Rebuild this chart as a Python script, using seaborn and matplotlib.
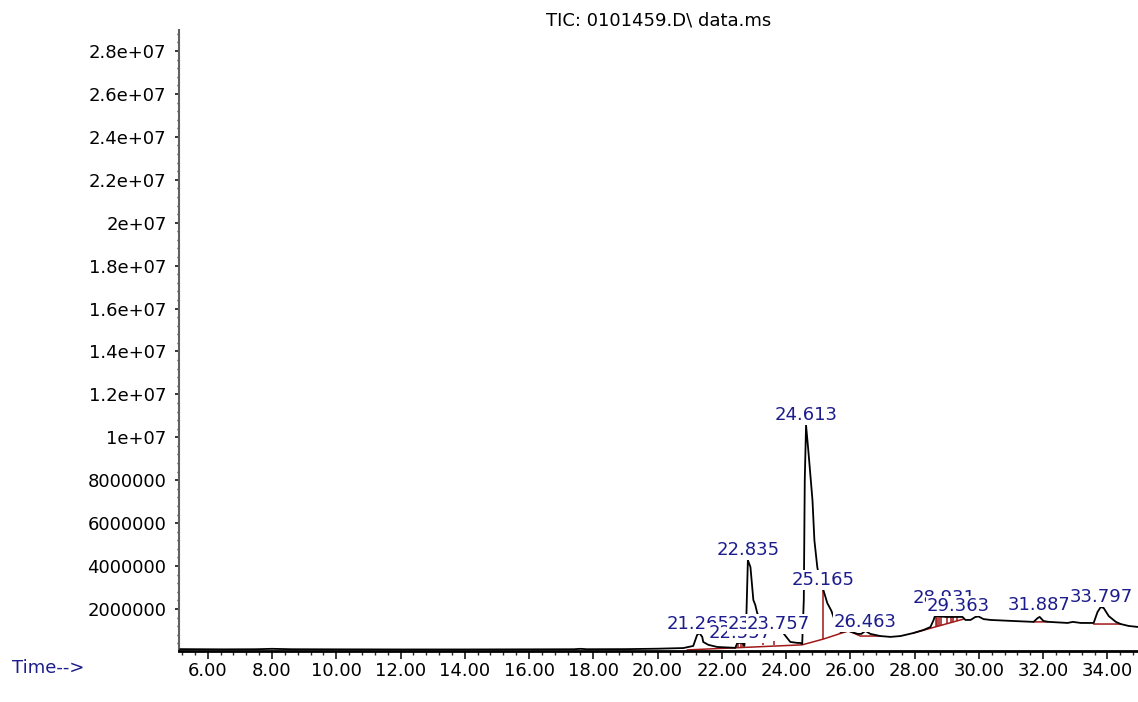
import numpy as np
import pandas as pd
import matplotlib
matplotlib.use("Agg")
import matplotlib.pyplot as plt
from matplotlib.ticker import MultipleLocator, FixedLocator, FuncFormatter
import seaborn as sns

# ---------------- data ----------------
time_min = [5.14, 6.5, 7.5, 8.0, 8.6, 10.0, 12.0, 14.0, 16.0, 17.4, 17.6, 17.8,
            19.0, 20.0, 20.80, 21.02, 21.11, 21.23, 21.30, 21.39, 21.42, 21.58,
            21.86, 22.42, 22.48, 22.64, 22.70, 22.76, 22.81, 22.89, 22.98, 23.04,
            23.10, 23.26, 23.51, 23.76, 23.91, 24.13, 24.35, 24.44, 24.50, 24.55,
            24.58, 24.62, 24.69, 24.82, 24.88, 24.97, 25.03, 25.16, 25.28, 25.41,
            25.56, 25.69, 25.94, 26.22, 26.34, 26.47, 26.62, 26.93, 27.25, 27.56,
            27.96, 28.27, 28.49, 28.59, 28.62, 28.68, 28.96, 29.27, 29.49, 29.58,
            29.74, 29.89, 29.99, 30.14, 30.36, 31.08, 31.70, 31.83, 31.89, 32.01,
            32.17, 32.76, 32.92, 33.17, 33.57, 33.69, 33.79, 33.88, 34.04, 34.26,
            34.41, 34.66, 34.97]
abundance = [1.3e5, 1.2e5, 1.25e5, 1.45e5, 1.25e5, 1.2e5, 1.15e5, 1.15e5, 1.2e5,
             1.25e5, 1.45e5, 1.25e5, 1.3e5, 1.5e5, 1.8e5, 2.5e5, 2.8e5, 7.9e5,
             8.8e5, 7.0e5, 4.65e5, 3.3e5, 2.3e5, 1.9e5, 4.2e5, 4.2e5, 2.8e5,
             1.49e6, 4.28e6, 3.95e6, 2.42e6, 2.19e6, 1.81e6, 1.40e6, 1.16e6,
             9.8e5, 8.8e5, 4.65e5, 4.2e5, 4.2e5, 3.7e5, 2.42e6, 8.0e6, 1.056e7,
             9.4e6, 7.07e6, 5.2e6, 3.95e6, 3.49e6, 2.88e6, 2.28e6, 1.91e6,
             1.26e6, 9.3e5, 9.8e5, 8.4e5, 8.4e5, 9.8e5, 8.4e5, 7.4e5, 7.0e5,
             7.4e5, 8.8e5, 1.02e6, 1.16e6, 1.49e6, 1.63e6, 1.67e6, 1.63e6,
             1.63e6, 1.63e6, 1.49e6, 1.49e6, 1.63e6, 1.65e6, 1.53e6, 1.49e6,
             1.44e6, 1.40e6, 1.58e6, 1.63e6, 1.44e6, 1.40e6, 1.35e6, 1.40e6,
             1.35e6, 1.35e6, 1.86e6, 2.09e6, 2.05e6, 1.67e6, 1.40e6, 1.30e6,
             1.21e6, 1.16e6]

# integration baselines (NaN separates segments)
base_t = [20.92, 24.50, 25.16, 25.94, 26.31, 26.93, np.nan,
          27.96, 29.52, np.nan,
          31.70, 32.14, np.nan,
          33.57, 34.41]
base_y = [9.3e4, 3.3e5, 6.0e5, 9.8e5, 7.4e5, 7.4e5, np.nan,
          8.8e5, 1.53e6, np.nan,
          1.40e6, 1.40e6, np.nan,
          1.30e6, 1.30e6]

# peak boundary drop lines
drop_t = [22.51, 22.59, 22.67, 23.29, 23.63, 25.16,
          28.65, 28.71, 28.77, 28.83, 29.02, 29.12, 29.18, 29.33]
drop_lo = [1.9e5, 1.9e5, 1.9e5, 3.3e5, 3.4e5, 6.0e5,
           1.17e6, 1.19e6, 1.21e6, 1.24e6, 1.32e6, 1.36e6, 1.39e6, 1.45e6]
drop_hi = [4.2e5, 4.2e5, 4.2e5, 5.1e5, 5.3e5, 2.88e6,
           1.63e6, 1.65e6, 1.65e6, 1.63e6, 1.63e6, 1.63e6, 1.63e6, 1.63e6]

# peak labels (retention time, anchor height)
label_rt = [21.265, 22.557, 22.835, 23.162, 23.757, 24.613, 25.165, 26.463,
            28.931, 29.363, 31.887, 33.797]
label_y = [8.4e5, 4.2e5, 4.28e6, 8.4e5, 8.4e5, 1.056e7, 2.88e6, 9.3e5,
           2.05e6, 1.67e6, 1.72e6, 2.09e6]

ytick_vals = list(np.arange(2e6, 2.81e7, 2e6))
xtick_vals = list(np.arange(6, 35, 2))

title_text = "TIC: 0101459.D\\ data.ms"
xlabel_text = "Time-->"

# ---------------- plotting ----------------
sns.set_style("ticks")
plt.rcParams["font.family"] = ["DejaVu Sans"]
plt.rcParams["text.color"] = "black"

FS = 13
W, H = 1138, 702
fig = plt.figure(figsize=(W / 100, H / 100), dpi=100)
ax = fig.add_axes([179 / W, 1 - 651 / H, (W - 179) / W, (651 - 30) / H])

df = pd.DataFrame({"t": time_min, "a": abundance})
sns.lineplot(data=df, x="t", y="a", ax=ax, color="black", lw=1.3,
             estimator=None, sort=False, zorder=3)

red = "#a01818"
ax.plot(base_t, base_y, color=red, lw=1.1, zorder=2)
ax.vlines(drop_t, drop_lo, drop_hi, color=red, lw=1.1, zorder=2)

lab_color = "#1c1c8c"
for rt, yv in zip(label_rt, label_y):
    ax.annotate(f"{rt:.3f}", xy=(rt, yv), xytext=(0, 10),
                textcoords="offset pixels", ha="center", va="center",
                fontsize=FS, color=lab_color, zorder=5,
                bbox=dict(boxstyle="square,pad=0.05", fc="white", ec="none"),
                annotation_clip=False)

ax.set_xlim(5.107, 34.95)
ax.set_ylim(4.3e4, 2.898e7)

ax.xaxis.set_major_locator(FixedLocator(xtick_vals))
ax.xaxis.set_minor_locator(MultipleLocator(0.4))
ax.xaxis.set_major_formatter(FuncFormatter(lambda v, p: f"{v:.2f}"))
ax.yaxis.set_major_locator(FixedLocator(ytick_vals))
ax.yaxis.set_minor_locator(MultipleLocator(4e5))


def yfmt(v, p):
    if v >= 1e7:
        s = f"{v:.1e}"
        m, e = s.split("e")
        m = m.rstrip("0").rstrip(".")
        return f"{m}e+{int(e):02d}"
    return f"{int(round(v))}"


ax.yaxis.set_major_formatter(FuncFormatter(yfmt))

ax.tick_params(axis="x", which="major", length=6, width=1.1, direction="out",
               labelsize=FS, pad=2, colors="black")
ax.tick_params(axis="x", which="minor", length=3, width=1.0, direction="out")
ax.tick_params(axis="y", which="major", length=3, width=1.1, direction="out",
               labelsize=FS, pad=6, colors="black")
ax.tick_params(axis="y", which="minor", length=1.6, width=1.0, direction="out")

sns.despine(ax=ax, top=True, right=True)
ax.spines["left"].set_color("#606060")
ax.spines["left"].set_linewidth(1.5)
ax.spines["bottom"].set_color("black")
ax.spines["bottom"].set_linewidth(2.0)
ax.set_xlabel("")
ax.set_ylabel("")
ax.set_title(title_text, fontsize=FS, pad=3, color="black")

fig.text(12 / W, 1 - 668 / H, xlabel_text, color=lab_color, fontsize=FS,
         ha="left", va="center")

fig.savefig("out.png", dpi=100)
